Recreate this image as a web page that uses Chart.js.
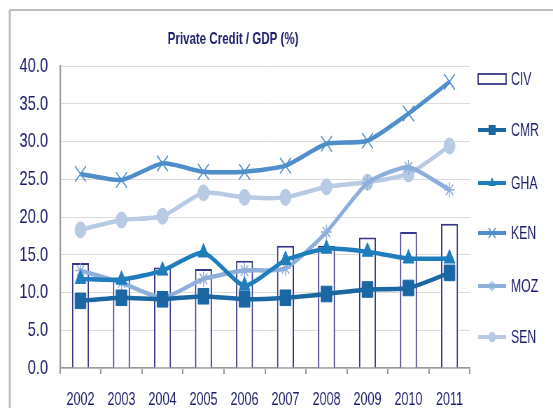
<!DOCTYPE html>
<html>
<head>
<meta charset="utf-8">
<script src="https://cdn.jsdelivr.net/npm/chart.js@4/dist/chart.umd.min.js"></script>
<style>
    html, body { margin: 0; padding: 0; background: #fff; overflow: hidden; }
    #wrap { width: 553px; height: 408px; overflow: hidden; }
    /* the original chart is squeezed sideways, so draw wide and squash */
    #creditChart { transform: scaleX(0.7); transform-origin: 0 0; }
</style>
</head>
<body>
<div id="wrap"><canvas id="creditChart" width="790" height="408" style="width:790px;height:408px"></canvas></div>
<script>
const years = ['2002', '2003', '2004', '2005', '2006', '2007', '2008', '2009', '2010', '2011'];
const civValues = [13.9, 12.0, 13.3, 13.1, 14.2, 16.2, 16.2, 17.3, 18.0, 19.1];
const cmrValues = [8.9, 9.3, 9.1, 9.5, 9.1, 9.3, 9.8, 10.4, 10.6, 12.6];
const ghaValues = [11.8, 11.7, 12.9, 15.3, 10.9, 14.3, 15.8, 15.4, 14.5, 14.5];
const kenValues = [25.7, 24.9, 27.1, 26.0, 26.0, 26.8, 29.7, 30.1, 33.7, 37.9];
const mozValues = [12.9, 11.3, 9.3, 11.8, 12.9, 13.2, 18.0, 24.5, 26.6, 23.6];
const senValues = [18.3, 19.6, 20.1, 23.2, 22.6, 22.6, 24.0, 24.6, 25.7, 29.4];
const yTicks = [0, 5, 10, 15, 20, 25, 30, 35, 40];

const navy = '#1c1c6c';
const fontFamily = "'Liberation Sans', Arial, sans-serif";
Chart.defaults.font.family = fontFamily;

function lineSet(label, data, color, style, radius, width) {
    return {
        type: 'line',
        label: label,
        data: data,
        borderColor: color,
        backgroundColor: color,
        pointBackgroundColor: color,
        pointBorderColor: color,
        borderWidth: 4.5,
        pointStyle: style,
        pointRadius: radius,
        pointBorderWidth: width,
        tension: 0.2,
        order: 1
    };
}

function drawMarker(ctx, style, x, y, r, color, width) {
    ctx.fillStyle = color;
    ctx.strokeStyle = color;
    ctx.lineWidth = width;
    ctx.beginPath();
    if (style === 'rect') {
        ctx.fillRect(x - r * 0.7, y - r * 0.7, r * 1.4, r * 1.4);
    } else if (style === 'triangle') {
        ctx.moveTo(x, y - r);
        ctx.lineTo(x + r * 0.87, y + r * 0.5);
        ctx.lineTo(x - r * 0.87, y + r * 0.5);
        ctx.closePath();
        ctx.fill();
    } else if (style === 'circle') {
        ctx.arc(x, y, r, 0, Math.PI * 2);
        ctx.fill();
    } else {
        const d = r * 0.7;
        ctx.moveTo(x - d, y - d); ctx.lineTo(x + d, y + d);
        ctx.moveTo(x + d, y - d); ctx.lineTo(x - d, y + d);
        if (style === 'star') {
            ctx.moveTo(x, y - r); ctx.lineTo(x, y + r);
            ctx.moveTo(x - r, y); ctx.lineTo(x + r, y);
        }
        ctx.stroke();
    }
}

// frame, title and legend drawn by hand
const decorations = {
    id: 'decorations',
    afterDraw(chart) {
        const ctx = chart.ctx;
        ctx.save();
        ctx.strokeStyle = '#bdbdbd';
        ctx.lineWidth = 2;
        ctx.beginPath();
        ctx.moveTo(14, 10);
        ctx.lineTo(790, 10);
        ctx.stroke();
        ctx.lineWidth = 3;
        ctx.beginPath();
        ctx.moveTo(14, 408);
        ctx.lineTo(14, 10);
        ctx.stroke();

        ctx.fillStyle = navy;
        ctx.font = 'bold 16.5px ' + fontFamily;
        ctx.textAlign = 'center';
        ctx.textBaseline = 'middle';
        ctx.fillText('Private Credit / GDP (%)', 333, 39);

        const rows = [79, 130, 183, 233, 286, 337];
        ctx.textAlign = 'left';
        ctx.font = '17.5px ' + fontFamily;
        chart.data.datasets.forEach((ds, i) => {
            const y = rows[i];
            if (ds.type === 'bar') {
                ctx.fillStyle = '#fff';
                ctx.fillRect(683, y - 5, 40, 10);
                ctx.strokeStyle = '#36368a';
                ctx.lineWidth = 1.8;
                ctx.strokeRect(683, y - 5, 40, 10);
            } else {
                ctx.strokeStyle = ds.borderColor;
                ctx.lineWidth = 4;
                ctx.beginPath();
                ctx.moveTo(683, y);
                ctx.lineTo(723, y);
                ctx.stroke();
                drawMarker(ctx, ds.pointStyle, 703, y, ds.pointRadius * 0.65, ds.borderColor, ds.pointBorderWidth);
            }
            ctx.fillStyle = navy;
            ctx.fillText(ds.label, 730, y + 1);
        });
        ctx.restore();
    }
};

new Chart(document.getElementById('creditChart').getContext('2d'), {
    type: 'bar',
    data: {
        labels: years,
        datasets: [
            {
                type: 'bar',
                label: 'CIV',
                data: civValues,
                backgroundColor: '#ffffff',
                borderColor: '#36368a',
                borderWidth: 2,
                categoryPercentage: 1,
                barPercentage: 0.415,
                order: 10
            },
            lineSet('CMR', cmrValues, '#1b67a3', 'rect', 11, 1),
            lineSet('GHA', ghaValues, '#1f7cbd', 'triangle', 9, 1),
            lineSet('KEN', kenValues, '#4f8ecb', 'crossRot', 11, 1.5),
            lineSet('MOZ', mozValues, '#8eaedb', 'star', 7.5, 1.5),
            lineSet('SEN', senValues, '#b9cae4', 'circle', 8, 1)
        ]
    },
    options: {
        responsive: false,
        animation: false,
        devicePixelRatio: 1,
        layout: { padding: { left: 0, right: 118.6, top: 66, bottom: 0 } },
        plugins: {
            legend: { display: false },
            title: { display: false },
            tooltip: { enabled: false }
        },
        scales: {
            x: {
                grid: {
                    drawOnChartArea: false,
                    drawTicks: true,
                    tickLength: 6,
                    color: '#9a9a9a',
                    lineWidth: 2,
                    offset: true
                },
                border: { color: '#9a9a9a', width: 1.5 },
                ticks: { color: navy, font: { size: 18 }, padding: 15, maxRotation: 0, autoSkip: false },
                afterFit(scale) { scale.height = 40; }
            },
            y: {
                min: 0,
                max: 40,
                afterBuildTicks(scale) { scale.ticks = yTicks.map(v => ({ value: v })); },
                grid: {
                    color: '#dcdcdc',
                    borderDash: [3, 3],
                    drawTicks: false
                },
                border: { color: '#9a9a9a', width: 2.2 },
                ticks: {
                    color: navy,
                    font: { size: 21 },
                    padding: 17,
                    callback: v => v.toFixed(1)
                },
                afterFit(scale) { scale.width = 85.7; }
            }
        }
    },
    plugins: [decorations]
});
</script>
</body>
</html>
